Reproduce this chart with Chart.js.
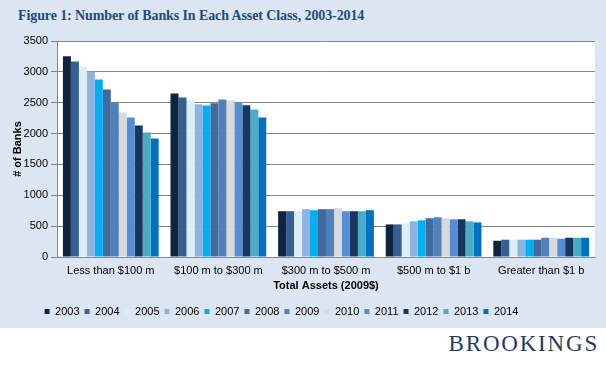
<!DOCTYPE html>
<html>
<head>
<meta charset="utf-8">
<script src="https://cdn.jsdelivr.net/npm/chart.js@4"></script>
<style>
	html, body { margin: 0; padding: 0; }
	body { width: 606px; height: 369px; position: relative; overflow: hidden; background: #dce6f2; }
	.title { position: absolute; left: 18px; top: 8px; font: bold 14px 'Liberation Serif', serif; color: #24497d; letter-spacing: -0.1px; white-space: nowrap; }
	.footer { position: absolute; left: 0; top: 328px; width: 606px; height: 41px; background: #fff; }
	.brand { position: absolute; right: 7px; top: 3px; font: 23px 'Liberation Serif', serif; color: #1f3a66; letter-spacing: 1.8px; }
	#chart { position: absolute; left: 0; top: 0; }
</style>
</head>
<body>
<div class="title">Figure 1: Number of Banks In Each Asset Class, 2003-2014</div>
<div class="footer"><span class="brand">BROOKINGS</span></div>
<canvas id="chart" width="606" height="369"></canvas>
<script>
const years = ['2003', '2004', '2005', '2006', '2007', '2008', '2009', '2010', '2011', '2012', '2013', '2014'];
const categories = ['Less than $100 m', '$100 m to $300 m', '$300 m to $500 m', '$500 m to $1 b', 'Greater than $1 b'];

// bank counts per asset class, one value per year 2003..2014
const under100m = [3254, 3167, 3086, 3005, 2875, 2713, 2503, 2340, 2259, 2129, 2016, 1919];
const from100to300m = [2650, 2585, 2535, 2476, 2454, 2492, 2552, 2535, 2503, 2459, 2389, 2259];
const from300to500m = [742, 742, 742, 775, 758, 775, 775, 791, 742, 742, 742, 758];
const from500mto1b = [528, 528, 544, 578, 594, 628, 644, 628, 611, 611, 578, 561];
const over1b = [263, 280, 280, 280, 280, 280, 312, 312, 296, 312, 312, 312];

const yTicks = [0, 500, 1000, 1500, 2000, 2500, 3000, 3500];

const colors = ['#10243f', '#365f91', '#dbeef4', '#8db3e2', '#00b0f0', '#426a9c',
	'#4f81bd', '#d9d9d9', '#558ed5', '#17375e', '#4bacc6', '#0070c0'];

const groups = [under100m, from100to300m, from300to500m, from500mto1b, over1b];

const datasets = years.map((year, i) => ({
	label: year,
	data: groups.map(g => g[i]),
	backgroundColor: colors[i],
	borderWidth: 0,
	categoryPercentage: 0.89,
	barPercentage: 1.0
}));

const plotBg = {
	id: 'plotBg',
	beforeDraw(chart) {
		const {ctx, chartArea: a} = chart;
		ctx.save();
		ctx.fillStyle = '#ffffff';
		ctx.fillRect(a.left, a.top, a.right - a.left, a.bottom - a.top);
		ctx.restore();
	}
};

// nudge the legend left, the source centres it under the plot + axis
const legendShift = {
	id: 'legendShift',
	afterLayout(chart) {
		const l = chart.legend;
		l.left -= 16;
		l.right -= 16;
	}
};

Chart.defaults.font.family = "'Liberation Sans', Arial, sans-serif";
Chart.defaults.font.size = 11;
Chart.defaults.color = '#000';

new Chart(document.getElementById('chart'), {
	type: 'bar',
	data: { labels: categories, datasets: datasets },
	options: {
		responsive: false,
		animation: false,
		layout: { padding: { left: 0, right: 11, top: 41, bottom: 42 } },
		plugins: {
			legend: {
				position: 'bottom',
				labels: { boxWidth: 5, boxHeight: 5, padding: 5, font: { size: 11 } }
			},
			tooltip: { enabled: false },
			title: { display: false }
		},
		scales: {
			x: {
				grid: { display: false, drawTicks: false },
				border: { display: true, color: '#868686' },
				ticks: { padding: 7, maxRotation: 0 },
				title: { display: true, text: 'Total Assets (2009$)', font: { weight: 'bold', size: 11 }, padding: { top: 0, bottom: 8 } },
				afterFit(s) { s.height = 44; }
			},
			y: {
				min: 0,
				max: 3500,
				afterBuildTicks(s) { s.ticks = yTicks.map(v => ({ value: v })); },
				grid: { color: '#868686', tickLength: 6, lineWidth: 1 },
				border: { display: true, color: '#868686' },
				ticks: { padding: 3, callback: v => String(v) },
				title: { display: true, text: '# of Banks', font: { weight: 'bold', size: 11 }, padding: { top: 11, bottom: 0 } },
				afterFit(s) { s.width = 57; }
			}
		}
	},
	plugins: [plotBg, legendShift]
});
</script>
</body>
</html>
